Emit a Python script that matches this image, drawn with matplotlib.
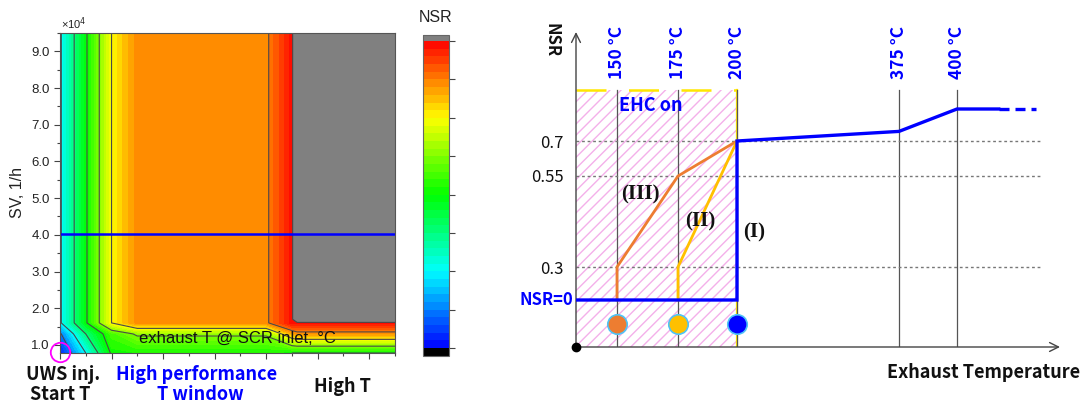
import numpy as np
import matplotlib
matplotlib.use("Agg")
import matplotlib.pyplot as plt
from matplotlib.colors import LinearSegmentedColormap
from matplotlib.ticker import MultipleLocator, FormatStrFormatter, NullFormatter

plt.rcParams["font.family"] = ["Liberation Sans", "DejaVu Sans"]
plt.rcParams["hatch.linewidth"] = 1.0
KR = ["Noto Sans CJK KR", "DejaVu Sans"]

# ---- left panel: NSR map, exhaust T (degC) vs SV (x1e4 1/h)
T_GRID = [150, 175, 200, 225, 350, 375, 380, 475]
SV_GRID = [0.78, 1.3, 1.6, 1.7, 9.5]
NSR_MAP = [
    [0.02, 0.20, 0.41, 0.42, 0.42, 0.40, 0.40, 0.40],
    [0.09, 0.30, 0.45, 0.51, 0.51, 0.66, 0.68, 0.68],
    [0.19, 0.39, 0.60, 0.69, 0.69, 0.79, 0.79, 0.79],
    [0.19, 0.39, 0.60, 0.69, 0.69, 0.79, 0.86, 0.86],
    [0.19, 0.39, 0.60, 0.69, 0.69, 0.79, 0.86, 0.86],
]
SV_LINE = 4.03
START_SV = 0.81
LINE_LEVELS = [0.1, 0.2, 0.3, 0.4, 0.5, 0.6, 0.7, 0.8]
CBAR_TICKS = [0.0, 0.1, 0.2, 0.3, 0.4, 0.5, 0.6, 0.7, 0.8]

# ---- right panel: NSR strategy sketch
MARK_T = [150, 175, 200, 375, 400]
MARK_LABELS = ["150 °C", "175 °C", "200 °C", "375 °C", "400 °C"]
GUIDE_NSR = [0.3, 0.55, 0.7]
GUIDE_LABELS = ["0.3", "0.55", "0.7"]
CURVE_I_T = [100, 200, 200, 375, 400, 418]
CURVE_I_NSR = [0.0, 0.0, 0.7, 0.73, 0.8, 0.8]
CURVE_I_TAIL_T = [418, 434]
CURVE_I_TAIL_NSR = [0.8, 0.8]
CURVE_II_T = [175, 175, 200]
CURVE_II_NSR = [0.0, 0.3, 0.7]
CURVE_III_T = [150, 150, 175, 200]
CURVE_III_NSR = [0.0, 0.3, 0.55, 0.7]
START_T = [150, 175, 200]
START_COLORS = ["#ED7D31", "#FFC000", "#0000FF"]

# schematic (non-linear) axes of the sketch: value -> pixel anchors
T_ANCHOR = [100, 150, 175, 200, 375, 400, 450]
T_PIX = [0, 41, 102, 161, 323, 381, 497]
NSR_ANCHOR = [-0.2, 0.0, 0.3, 0.55, 0.7, 0.8, 1.1]
NSR_PIX = [0, 47, 80, 171, 206, 238, 334]

W, H = 1084, 403
fig = plt.figure(figsize=(W / 100, H / 100), dpi=100)


def fx(px):
    return px / W


def fy(py):
    return 1 - py / H


# ------------------------------------------------------------ left map
ax1 = fig.add_axes([fx(60), fy(353), 335 / W, 320 / H])
cmap = LinearSegmentedColormap.from_list(
    "nsr", ["#0000FF", "#00FFFF", "#00FF00", "#FFFF00", "#FF0000"])
cmap.set_over("#808080")
cmap.set_under("#000000")
levels = np.linspace(0, 0.8, 41)
cf = ax1.contourf(T_GRID, SV_GRID, NSR_MAP, levels=levels, cmap=cmap, extend="both")
ax1.contour(T_GRID, SV_GRID, NSR_MAP, levels=LINE_LEVELS, colors="#4a4a4a", linewidths=0.8)
ax1.axhline(SV_LINE, color="#0000FF", lw=1.8)
ax1.plot(150, START_SV, "o", ms=14, mfc="none", mec="#FF00FF", mew=1.3, clip_on=False, zorder=5)

ax1.set_xlim(150, 475)
ax1.set_ylim(0.78, 9.5)
ax1.yaxis.set_major_locator(MultipleLocator(1.0))
ax1.yaxis.set_minor_locator(MultipleLocator(0.5))
ax1.yaxis.set_major_formatter(FormatStrFormatter("%.1f"))
ax1.xaxis.set_major_locator(MultipleLocator(50))
ax1.xaxis.set_minor_locator(MultipleLocator(25))
ax1.xaxis.set_major_formatter(NullFormatter())
ax1.tick_params(which="major", length=4, width=0.8, color="#444", labelsize=9.5, labelcolor="#222")
ax1.tick_params(which="minor", length=2.5, width=0.8, color="#444")
for s in ax1.spines.values():
    s.set_color("#555")
    s.set_linewidth(0.8)

ax1.text(322, 1.19, "exhaust T @ SCR inlet, °C", fontsize=12, ha="center", va="center", color="#111")
fig.text(fx(61), fy(24), "×10$^4$", fontsize=8, ha="left", va="center", color="#222")
fig.text(fx(17), fy(192), "SV, 1/h", fontsize=11.5, rotation=90, ha="center", va="center", color="#222")

cax = fig.add_axes([fx(423), fy(356), 26 / W, 321 / H])
cbar = fig.colorbar(cf, cax=cax, extend="both", extendrect=True, extendfrac=(0.026, 0.02))
cbar.set_ticks(CBAR_TICKS)
cbar.ax.tick_params(length=4, width=0.8, color="#444", labelright=False)
cbar.outline.set_edgecolor("#666")
cbar.outline.set_linewidth(0.8)
fig.text(fx(436), fy(17), "NSR", fontsize=11.5, ha="center", va="center", color="#222")

lab = dict(family=KR, weight="bold", fontsize=13, ha="center", va="center")
fig.text(fx(63), fy(374), "UWS inj.", color="#111", **lab)
fig.text(fx(60), fy(394), "Start T", color="#111", **lab)
fig.text(fx(197), fy(374), "High performance", color="#0000FF", **lab)
fig.text(fx(200), fy(394), "T window", color="#0000FF", **lab)
fig.text(fx(342), fy(387), "High T", color="#111", **lab)

# ------------------------------------------------------------ right sketch
ax2 = fig.add_axes([fx(576), fy(347), 484 / W, 315 / H])
ax2.set_xscale("function", functions=(lambda v: np.interp(v, T_ANCHOR, T_PIX),
                                      lambda p: np.interp(p, T_PIX, T_ANCHOR)))
ax2.set_yscale("function", functions=(lambda v: np.interp(v, NSR_ANCHOR, NSR_PIX),
                                      lambda p: np.interp(p, NSR_PIX, NSR_ANCHOR)))
x_end = np.interp(484, T_PIX, T_ANCHOR)
y_end = np.interp(315, NSR_PIX, NSR_ANCHOR)
box_top = np.interp(257, NSR_PIX, NSR_ANCHOR)
guide_end = np.interp(466, T_PIX, T_ANCHOR)
ax2.set_xlim(100, x_end)
ax2.set_ylim(-0.2, y_end)
for s in ax2.spines.values():
    s.set_visible(False)
ax2.set_xticks([])
ax2.set_yticks(GUIDE_NSR)
ax2.set_yticklabels(GUIDE_LABELS, family=KR, fontsize=12, color="#111")
ax2.tick_params(axis="y", length=0, pad=9)
ax2.set_yticks([], minor=True)
ax2.set_xticks([], minor=True)

# EHC-on window
ax2.fill_between([100, 200], -0.2, box_top, facecolor="white", edgecolor="#F4B0EA",
                 hatch="///", linewidth=0, zorder=0)
ax2.plot([200, 200], [-0.2, box_top], color="#FFE600", lw=1.6, zorder=1)
ax2.plot([100, 200], [box_top, box_top], color="#FFE600", lw=1.8, dashes=(12, 9), zorder=1)

for t, txt in zip(MARK_T, MARK_LABELS):
    ax2.plot([t, t], [-0.2, box_top], color="#555", lw=0.9, zorder=1)
    ax2.text(t, box_top + 0.035, txt, rotation=90, ha="center", va="bottom",
             family=KR, weight="bold", fontsize=12.5, color="#0000FF")
for v in GUIDE_NSR:
    ax2.plot([100, guide_end], [v, v], color="#777", lw=1, ls=(0, (2, 2)), zorder=1)

ax2.plot(CURVE_III_T, CURVE_III_NSR, color="#ED7D31", lw=2, zorder=3)
ax2.plot(CURVE_II_T, CURVE_II_NSR, color="#FFC000", lw=2, zorder=3)
ax2.plot(CURVE_I_T, CURVE_I_NSR, color="#0000FF", lw=2.4, zorder=4, solid_joinstyle="miter")
ax2.plot(CURVE_I_TAIL_T, CURVE_I_TAIL_NSR, color="#0000FF", lw=2.4, dashes=(3, 1.8), zorder=4)
for t, c in zip(START_T, START_COLORS):
    ax2.plot(t, -0.1, "o", ms=14, mfc=c, mec="#4FC3F7", mew=1.2, zorder=5)
ax2.plot(100, -0.2, "o", ms=6, color="black", clip_on=False, zorder=6)

arrow = dict(arrowstyle="->", color="#444", lw=1, shrinkA=0, shrinkB=0, mutation_scale=16)
ax2.annotate("", xy=(1, 0), xytext=(0, 0), xycoords="axes fraction", arrowprops=arrow)
ax2.annotate("", xy=(0, 1), xytext=(0, 0), xycoords="axes fraction", arrowprops=arrow)

ax2.text(151, 0.81, "EHC on", family=KR, weight="bold", fontsize=13, color="#0000FF",
         ha="left", va="center")
ax2.text(-0.005, 0.0, "NSR=0", transform=ax2.get_yaxis_transform(), family=KR, weight="bold",
         fontsize=12, color="#0000FF", ha="right", va="center")
roman = dict(family=["Liberation Serif"], weight="bold", fontsize=15, ha="center", va="center", color="#111")
ax2.text(159.4, 0.50, "(III)", **roman)
ax2.text(184.3, 0.424, "(II)", **roman)
ax2.text(218, 0.396, "(I)", **roman)

fig.text(fx(552), fy(40), "NSR", rotation=270, family=KR, weight="bold", fontsize=12,
         ha="center", va="center", color="#111")
fig.text(fx(1080), fy(372), "Exhaust Temperature", family=KR, weight="bold", fontsize=13,
         ha="right", va="center", color="#111")

fig.savefig("out.png", dpi=100)
